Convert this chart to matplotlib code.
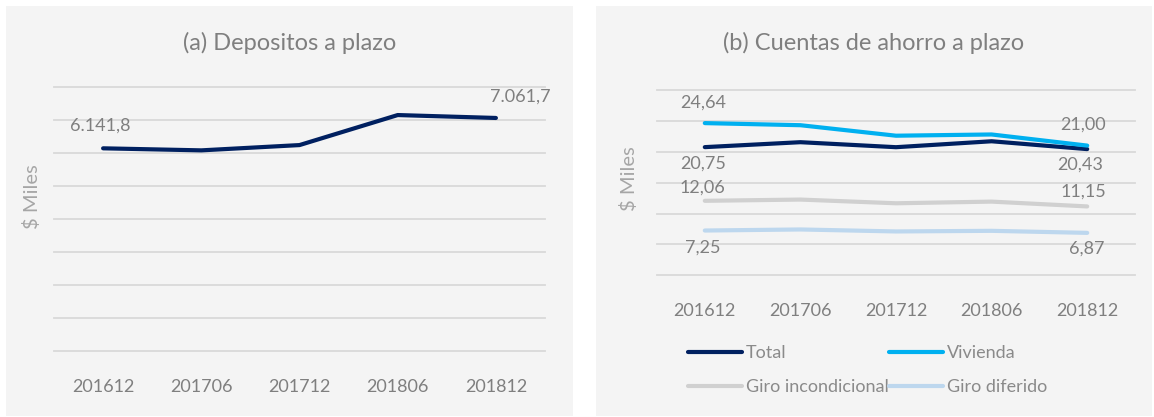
import matplotlib
matplotlib.use("Agg")
import matplotlib.pyplot as plt
from matplotlib.patches import Rectangle

plt.rcParams['font.family'] = ['Lato', 'DejaVu Sans']

# data
periods = ["201612", "201706", "201712", "201806", "201812"]
depositos = [6141.8, 6080, 6240, 7150, 7061.7]

total = [20.75, 21.55, 20.74, 21.70, 20.43]
vivienda = [24.64, 24.30, 22.60, 22.80, 21.00]
giro_incond = [12.06, 12.26, 11.66, 11.93, 11.15]
giro_dif = [7.25, 7.42, 7.10, 7.20, 6.87]

GREY_TXT = "#7f7f7f"
GRID = "#d9d9d9"
W, H = 1154, 417


def fmt(v, dec):
    s = f"{v:,.{dec}f}"
    return s.replace(",", "X").replace(".", ",").replace("X", ".")


def px(x0, y0, x1, y1):
    # pixel box (top-left origin) -> figure fraction rect
    return [x0 / W, 1 - y1 / H, (x1 - x0) / W, (y1 - y0) / H]


fig = plt.figure(figsize=(W / 100, H / 100), dpi=100)
fig.patch.set_facecolor("white")

# panel backgrounds
for x0, x1 in [(6, 573), (596, 1152)]:
    fig.add_artist(Rectangle((x0 / W, 1 - 416 / H), (x1 - x0) / W, 410 / H,
                             transform=fig.transFigure, facecolor="#f4f4f4",
                             edgecolor="none", zorder=-5))


def style(ax, ymax, step):
    ax.set_facecolor("none")
    for s in ax.spines.values():
        s.set_visible(False)
    ax.set_xlim(-0.5, 4.5)
    ax.set_ylim(0, ymax)
    ax.set_yticks(range(0, ymax + 1, step))
    ax.set_yticklabels([])
    ax.set_xticks(range(len(periods)))
    ax.set_xticklabels(periods, fontsize=13, color=GREY_TXT)
    ax.tick_params(axis="both", length=0)
    ax.tick_params(axis="x", pad=20)
    ax.grid(axis="y", color=GRID, lw=1.3)
    ax.set_axisbelow(True)
    for gl in ax.get_ygridlines():
        gl.set_clip_on(False)


# (a) Depositos a plazo
ax1 = fig.add_axes(px(54, 87, 545, 351))
style(ax1, 8000, 1000)
x = range(len(periods))
ax1.plot(x, depositos, color="#002060", lw=3, solid_capstyle="round")
ax1.annotate(fmt(depositos[0], 1), (0, depositos[0]), xytext=(-3, 23),
             textcoords="offset pixels", ha="center", va="center",
             fontsize=13, color=GREY_TXT)
ax1.annotate(fmt(depositos[-1], 1), (4, depositos[-1]), xytext=(24, 21),
             textcoords="offset pixels", ha="center", va="center",
             fontsize=13, color=GREY_TXT)
fig.text(289.5 / W, 1 - 43 / H, "(a) Depositos a plazo", ha="center",
         va="center", fontsize=17, color=GREY_TXT)
fig.text(32 / W, 1 - 197 / H, "$ Miles", rotation=90, ha="center",
         va="center", fontsize=14.5, color="#a6a6a6")

# (b) Cuentas de ahorro a plazo
ax2 = fig.add_axes(px(657, 90, 1135, 275.3))
style(ax2, 30, 5)
series = [
    ("Total", total, "#002060", (-2, -16), (-7, -16)),
    ("Vivienda", vivienda, "#00B0F0", (-2, 20), (-4, 21)),
    ("Giro incondicional", giro_incond, "#d0d0d0", (-2, 13), (-4, 15)),
    ("Giro diferido", giro_dif, "#bdd7ee", (-2, -17), (0, -16)),
]
lines = {}
for name, vals, col, off0, off1 in series:
    ln, = ax2.plot(x, vals, color=col, lw=3, solid_capstyle="round", label=name)
    lines[name] = ln
    ax2.annotate(fmt(vals[0], 2), (0, vals[0]), xytext=off0,
                 textcoords="offset pixels", ha="center", va="center",
                 fontsize=13, color=GREY_TXT)
    ax2.annotate(fmt(vals[-1], 2), (4, vals[-1]), xytext=off1,
                 textcoords="offset pixels", ha="center", va="center",
                 fontsize=13, color=GREY_TXT)

order = ["Total", "Giro incondicional", "Vivienda", "Giro diferido"]
leg = fig.legend([lines[n] for n in order], order, ncol=2, frameon=False,
                 loc="upper left", bbox_to_anchor=(672 / W, 1 - 329 / H),
                 fontsize=13, handlelength=3.0, handletextpad=0.2,
                 columnspacing=0.0, labelspacing=1.0, labelcolor="#8a8a8a")

fig.text(874 / W, 1 - 43 / H, "(b) Cuentas de ahorro a plazo", ha="center",
         va="center", fontsize=17, color=GREY_TXT)
fig.text(629 / W, 1 - 179 / H, "$ Miles", rotation=90, ha="center",
         va="center", fontsize=14.5, color="#a6a6a6")

fig.savefig("out.png", dpi=100, facecolor="white")
